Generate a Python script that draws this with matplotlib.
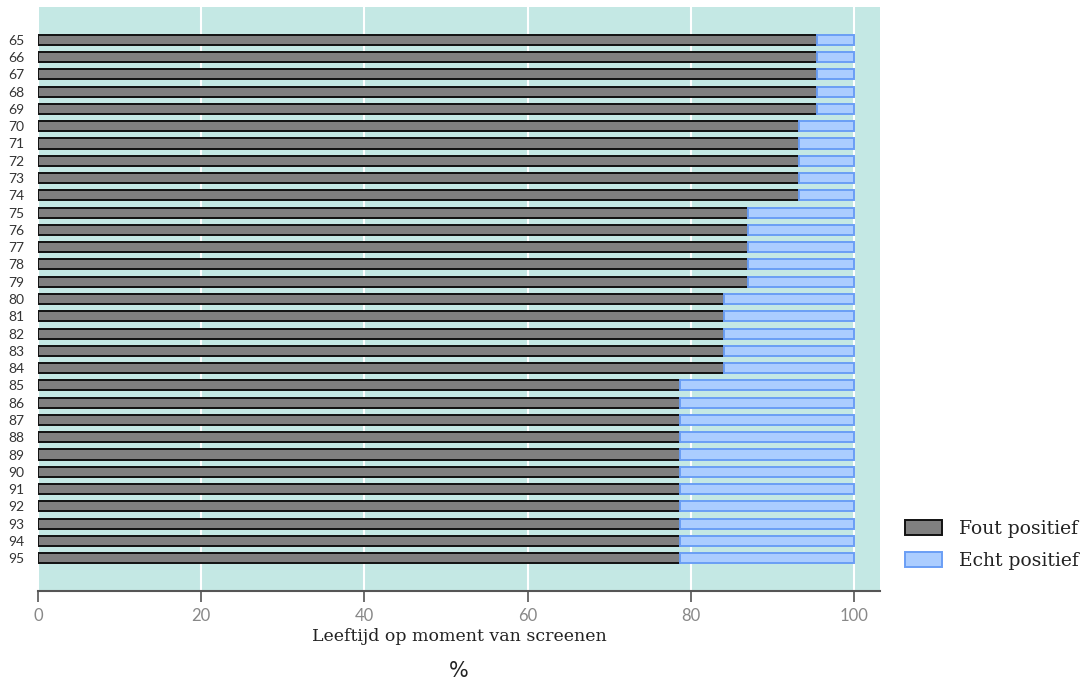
import numpy as np
import matplotlib.pyplot as plt
from matplotlib.patches import Patch

ages = list(range(65, 96))
fout_positief = ([95.5] * 5 + [93.3] * 5 + [87.0] * 5 + [84.1] * 5 + [78.7] * 11)
echt_positief = [100 - v for v in fout_positief]

x_ticks = [0, 20, 40, 60, 80, 100]

fig = plt.figure(figsize=(10.91, 6.86), dpi=100)
ax = fig.add_axes([38 / 1091, 1 - 591 / 686, (880 - 38) / 1091, (591 - 7) / 686])

ax.set_facecolor("#c4e8e4")
y = np.arange(len(ages))

ax.barh(y, fout_positief, height=0.58, color="#808080",
        edgecolor="#111111", linewidth=1.4, zorder=3)
ax.barh(y, echt_positief, left=fout_positief, height=0.58, color="#abcdff",
        edgecolor="#6a9ef5", linewidth=1.4, zorder=3)

ax.set_xlim(0, 103.2)
ax.set_ylim(len(ages) - 1 + 1.9, -1.9)
ax.set_yticks(y)
ax.set_yticklabels([str(a) for a in ages], fontsize=10, color="#333333",
                   family="Lato")
ax.tick_params(axis="y", length=0, pad=10)

ax.set_xticks(x_ticks)
ax.set_xticklabels([str(t) for t in x_ticks], fontsize=12, color="#888888",
                   family="Lato")
ax.tick_params(axis="x", length=8, width=1.2, color="#555555", pad=4)

ax.grid(axis="x", color="white", linewidth=1.5, zorder=0)
ax.set_axisbelow(True)

for s in ["top", "right", "left"]:
    ax.spines[s].set_visible(False)
ax.spines["bottom"].set_color("#555555")
ax.spines["bottom"].set_linewidth(1.5)

ax.set_xlabel("Leeftijd op moment van screenen", fontsize=12.5,
              family="DejaVu Serif", color="#222222", labelpad=3)
fig.text(459 / 1091, 1 - 671 / 686, "%", fontsize=15, family="DejaVu Sans",
         color="#222222", ha="center", va="center")

handles = [
    Patch(facecolor="#808080", edgecolor="#111111", linewidth=1.4, label="Fout positief"),
    Patch(facecolor="#abcdff", edgecolor="#6a9ef5", linewidth=1.4, label="Echt positief"),
]
fig.legend(handles=handles, loc="center left",
           bbox_to_anchor=(888 / 1091, 1 - 545 / 686), frameon=False,
           prop={"family": "DejaVu Serif", "size": 13.5},
           labelcolor="#222222",
           handlelength=2.0, handleheight=0.85, labelspacing=0.75,
           handletextpad=0.9)

plt.savefig("out.png", dpi=100)
